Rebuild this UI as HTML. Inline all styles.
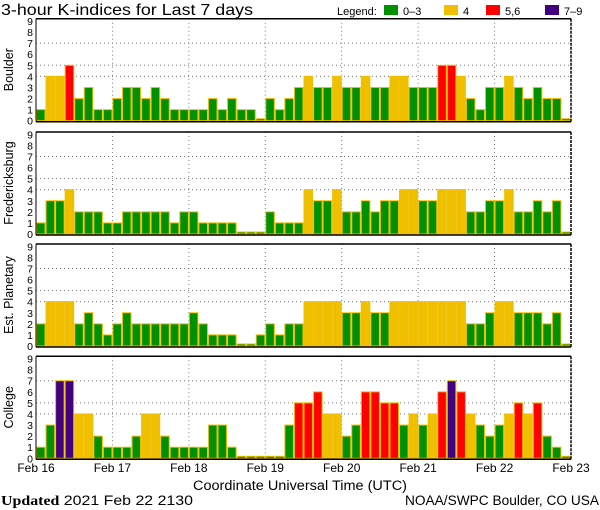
<!DOCTYPE html>
<html><head><meta charset="utf-8">
<style>
html,body{margin:0;padding:0;background:#fff;}
svg{display:block;font-family:"Liberation Sans",sans-serif;}
</style></head>
<body>
<svg id="chart" width="600" height="510" viewBox="0 0 600 510" xmlns="http://www.w3.org/2000/svg">
<text x="1" y="15" font-size="16" textLength="252" lengthAdjust="spacingAndGlyphs" fill="#000">3-hour K-indices for Last 7 days</text>
<g>
<text x="337" y="15" font-size="11">Legend:</text>
<rect x="384" y="5" width="14" height="10" fill="#009000"/>
<text x="403" y="15" font-size="11">0–3</text>
<rect x="444" y="5" width="14" height="10" fill="#f0c000"/>
<text x="463" y="15" font-size="11">4</text>
<rect x="486" y="5" width="14" height="10" fill="#ff0000"/>
<text x="505" y="15" font-size="11">5,6</text>
<rect x="545" y="5" width="14" height="10" fill="#400080"/>
<text x="564" y="15" font-size="11">7–9</text>
</g>
<text x="193" y="490" font-size="13.5" textLength="214" lengthAdjust="spacingAndGlyphs">Coordinate Universal Time (UTC)</text>
<text x="1" y="505" font-size="13.5" textLength="192" lengthAdjust="spacingAndGlyphs"><tspan font-family="Liberation Serif,serif" font-weight="bold">Updated</tspan> 2021 Feb 22 2130</text>
<text x="405" y="505" font-size="13.5" textLength="194" lengthAdjust="spacingAndGlyphs">NOAA/SWPC Boulder, CO USA</text>
</svg>
<script>
const stations = ["Boulder","Fredericksburg","Est. Planetary","College"];
const boulder = [1,4,4,5,2,3,1,1,2,3,3,2,3,2,1,1,1,1,2,1,2,1,1,0,2,1,2,3,4,3,3,4,3,3,4,3,3,4,4,3,3,3,5,5,4,2,1,3,3,4,3,2,3,2,2,0];
const fredericksburg = [1,3,3,4,2,2,2,1,1,2,2,2,2,2,1,2,2,1,1,1,1,0,0,0,2,1,1,1,4,3,3,4,2,2,3,2,3,3,4,4,3,3,4,4,4,2,2,3,3,4,2,2,3,2,3,0];
const planetary = [2,4,4,4,2,3,2,1,2,3,2,2,2,2,2,2,3,2,1,1,1,0,0,1,2,1,2,2,4,4,4,4,3,3,4,3,3,4,4,4,4,4,4,4,4,2,2,3,4,4,3,3,3,2,3,0];
const college = [1,3,7,7,4,4,2,1,1,1,2,4,4,2,1,1,1,1,3,3,1,0,0,0,0,0,3,5,5,6,4,4,2,3,6,6,5,5,3,4,3,4,6,7,6,4,3,2,3,4,5,4,5,2,1,0];
const dayLabels = ["Feb 16","Feb 17","Feb 18","Feb 19","Feb 20","Feb 21","Feb 22","Feb 23"];
const yTicks = [0,1,2,3,4,5,6,7,8,9];
const series = [boulder,fredericksburg,planetary,college];

const NS="http://www.w3.org/2000/svg";
const svg=document.getElementById('chart');
const X0=36, BW=535/56, UNIT=11.08;
const bottoms=[120.7,234,346,458.3];
function xPos(i){return X0+i*BW;}
function color(v){return v<=3?"#009000":v==4?"#f0c000":v<=6?"#ff0000":"#400080";}
function mk(tag,attrs,parent){const e=document.createElementNS(NS,tag);for(const k in attrs)e.setAttribute(k,attrs[k]);(parent||svg).appendChild(e);return e;}

series.forEach((data,p)=>{
  const yb=bottoms[p];
  const yS=v=>yb-v*UNIT;
  const top=yb-102;
  const g=mk('g',{});
  
  
  [4,5,7].forEach(v=>{
    const l=mk('line',{x1:X0,x2:X0+535,y1:yS(v),y2:yS(v),stroke:'#777','stroke-dasharray':'1 3'},g);
    
    
  });
  for(let d=1;d<7;d++){
    const l=mk('line',{x1:xPos(d*8),x2:xPos(d*8),y1:top,y2:yb,stroke:'#777','stroke-dasharray':'1 3'},g);
    
    
  }
  data.forEach((v,i)=>{
    const h=Math.max(v*UNIT,2);
    const r=mk('rect',{x:xPos(i)+0.5,y:yb-h,width:BW-1,height:h,fill:color(v),stroke:'#f0c000','stroke-width':1},g);
    
    
  });
  mk('line',{x1:X0,x2:X0+535,y1:top,y2:top,stroke:'#000','stroke-width':1.5},g);
  mk('line',{x1:X0,x2:X0+535,y1:yb+1,y2:yb+1,stroke:'#000','stroke-width':1.5},g);
  mk('line',{x1:X0,x2:X0,y1:top,y2:yb+1,stroke:'#000','stroke-width':1},g);
  mk('line',{x1:X0+535,x2:X0+535,y1:top,y2:yb+1,stroke:'#000','stroke-width':1.5,'stroke-dasharray':'3 1'},g);
  yTicks.forEach(v=>{
    const t=mk('text',{x:33,y:yS(v)+4,'font-size':10.5,'text-anchor':'end'},g);
    t.textContent=v;
    
    
  });
  const yt=mk('text',{x:0,y:0,'font-size':12.5,'text-anchor':'middle',transform:`translate(13,${yb-51}) rotate(-90)`},g);
  yt.textContent=stations[p];
  
  
});
dayLabels.forEach((d,i)=>{
  const t=mk('text',{x:xPos(i*8),y:472,'font-size':12,'text-anchor':'middle'});
  t.textContent=d;
  
  
});
</script>
</body></html>
